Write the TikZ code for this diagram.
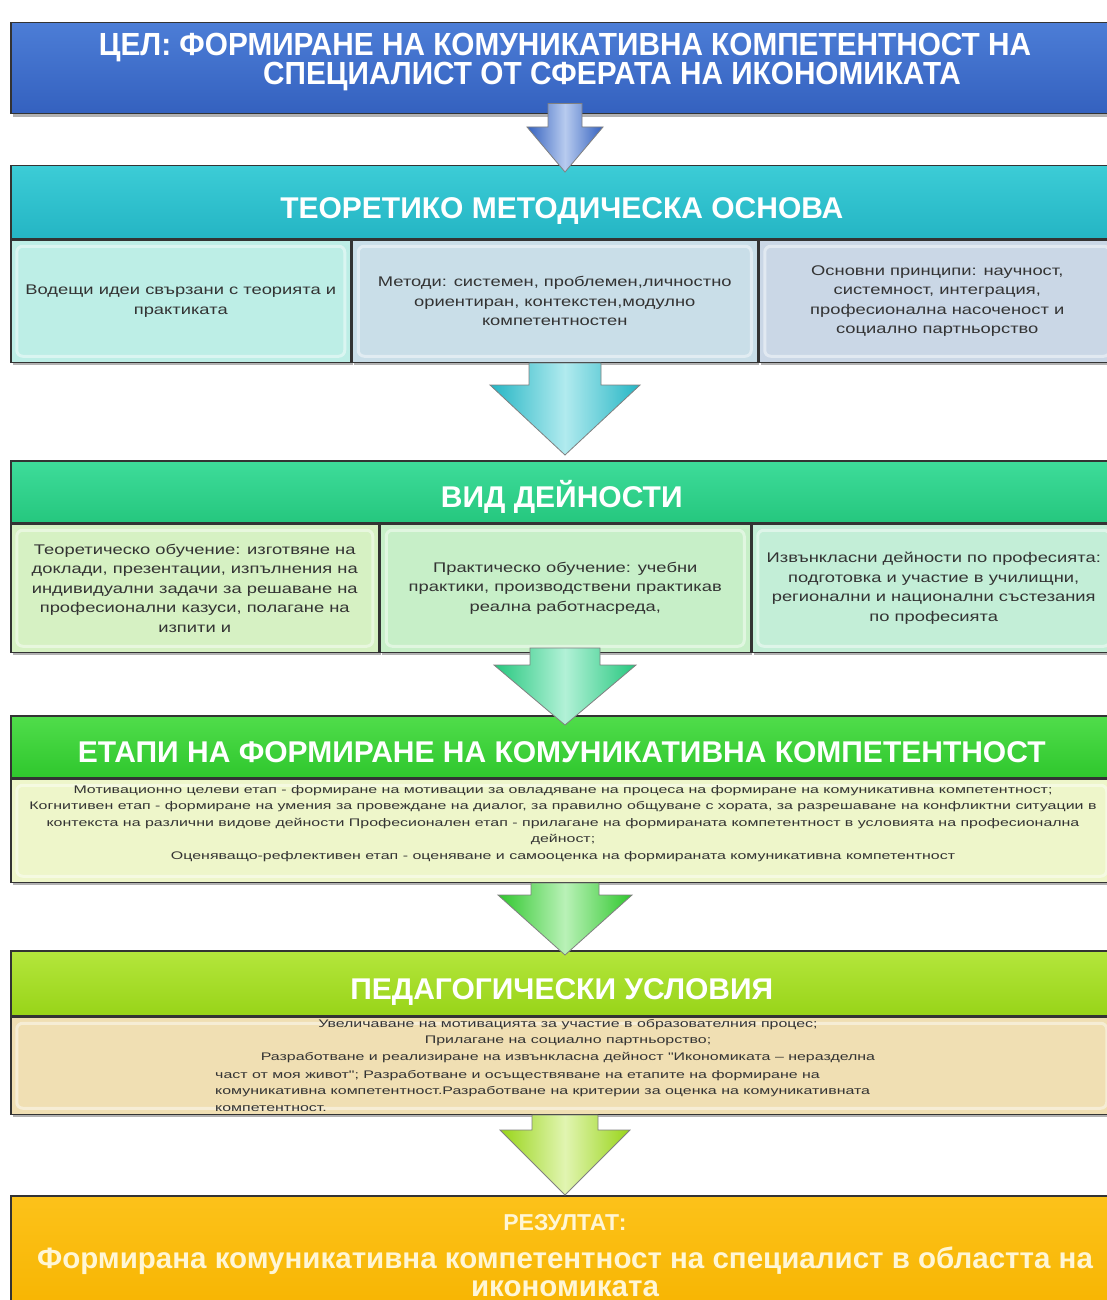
\documentclass[tikz,border=0pt]{standalone}
\usepackage{fontspec}
\setmainfont{Liberation Sans}
\newfontfamily\titlefont{Liberation Sans}[FakeStretch=0.93]
\newfontfamily\boxfont{Liberation Sans}[FakeStretch=1.31]
\newfontfamily\notefont{Liberation Sans}[FakeStretch=1.45]
\usetikzlibrary{positioning,calc,shadows}

\definecolor{goaltop}{HTML}{4C7DD6}
\definecolor{goalbot}{HTML}{3461BF}
\definecolor{theorytop}{HTML}{3CCCD6}
\definecolor{theorybot}{HTML}{24B5C4}
\definecolor{acttop}{HTML}{3EDC9A}
\definecolor{actbot}{HTML}{25C77E}
\definecolor{stagetop}{HTML}{50DD4B}
\definecolor{stagebot}{HTML}{2FC72D}
\definecolor{condtop}{HTML}{B4E63C}
\definecolor{condbot}{HTML}{98D418}
\definecolor{resulttop}{HTML}{FCC21A}
\definecolor{resultbot}{HTML}{F7B400}
\definecolor{ideasfill}{HTML}{BDEEE6}
\definecolor{methodsfill}{HTML}{C9DEE8}
\definecolor{principfill}{HTML}{CAD7E6}
\definecolor{learnfill}{HTML}{D6F1C3}
\definecolor{practfill}{HTML}{C7EFC8}
\definecolor{extrafill}{HTML}{C3EED7}
\definecolor{stagefill}{HTML}{EEF6CA}
\definecolor{condfill}{HTML}{F0DFB3}
\definecolor{inktext}{HTML}{333333}
\definecolor{resulttext}{HTML}{FFF6D5}

% block arrow between two boxes: from, to, start extension, tip overshoot,
% shaft half width, head half width, head length, fill
\newcommand\blockarrow[8]{%
  \path (#1 -| spine) ++(0,-#3) coordinate (ba-s);
  \path (#2 -| spine) ++(0,#4) coordinate (ba-e);
  \draw[arrowedge,#8] ($(ba-s)+(-#5,0)$) -- ($(ba-e)+(-#5,-#7)$) -- ($(ba-e)+(-#6,-#7)$)
    -- (ba-e) -- ($(ba-e)+(#6,-#7)$) -- ($(ba-e)+(#5,-#7)$) -- ($(ba-s)+(#5,0)$) -- cycle;
}

\tikzset{
  gloss/.style={path picture={
    \draw[white,opacity=.45,line width=3pt,rounded corners=6pt]
      ([shift={(6pt,-6pt)}]path picture bounding box.north west) rectangle
      ([shift={(-6pt,6pt)}]path picture bounding box.south east);}},
  boxshadow/.style={drop shadow={shadow xshift=2pt,shadow yshift=-3pt,opacity=.5,fill=black!60}},
  headbox/.style={draw=black!80, line width=1.5pt, anchor=north west, minimum width=1102pt,
    inner sep=0pt, text height=32pt, text depth=0pt, text=white,
    font=\fontsize{30}{30}\selectfont\bfseries, boxshadow},
  subbox/.style={draw=black!80, line width=1.5pt, anchor=north west, inner sep=4pt,
    align=center, text=inktext, font=\boxfont\fontsize{14}{19.5}\selectfont, boxshadow, gloss},
  notebox/.style={subbox, font=\notefont\fontsize{11}{16.5}\selectfont},
  arrowedge/.style={draw=black!50, line width=0.8pt},
}

\begin{document}
\begin{tikzpicture}[x=1pt,y=-1pt]
\useasboundingbox[fill=white] (0,0) rectangle (1107,1300);
\coordinate (spine) at (565,0);

% goal
\node[headbox, top color=goaltop, bottom color=goalbot, minimum height=91pt] (goal) at (10,22) {};
\node[text=white, align=center, font=\titlefont\fontsize{32}{29}\selectfont\bfseries] (goaltext) at (565,62)
  {ЦЕЛ: ФОРМИРАНЕ НА КОМУНИКАТИВНА КОМПЕТЕНТНОСТ НА\\\hspace*{94pt}СПЕЦИАЛИСТ ОТ СФЕРАТА НА ИКОНОМИКАТА};

% theoretical basis
\node[headbox, top color=theorytop, bottom color=theorybot, minimum height=73pt] (theory) at (10,165)
  {ТЕОРЕТИКО МЕТОДИЧЕСКА ОСНОВА};
\node[subbox, fill=ideasfill, minimum width=340pt, minimum height=122pt] (ideas) at (theory.south west)
  {Водещи идеи свързани с теорията и\\практиката};
\node[subbox, fill=methodsfill, minimum width=405pt, minimum height=122pt] (methods) at (ideas.north east)
  {Методи: системен, проблемен,личностно\\ориентиран, контекстен,модулно\\компетентностен};
\node[subbox, fill=principfill, minimum width=357pt, minimum height=122pt] (principles) at (methods.north east)
  {Основни принципи: научност,\\системност, интеграция,\\професионална насоченост и\\социално партньорство};

% kinds of activity
\node[headbox, top color=acttop, bottom color=actbot, minimum height=62pt] (activity) at (10,460)
  {ВИД ДЕЙНОСТИ};
\node[subbox, fill=learnfill, minimum width=368pt, minimum height=128pt] (learning) at (activity.south west)
  {Теоретическо обучение: изготвяне на\\доклади, презентации, изпълнения на\\индивидуални задачи за решаване на\\професионални казуси, полагане на\\изпити и};
\node[subbox, fill=practfill, minimum width=370pt, minimum height=128pt] (practice) at (learning.north east)
  {Практическо обучение: учебни\\практики, производствени практикав\\реална работнасреда,};
\node[subbox, fill=extrafill, minimum width=364pt, minimum height=128pt] (extra) at (practice.north east)
  {Извънкласни дейности по професията:\\подготовка и участие в училищни,\\регионални и национални състезания\\по професията};

% stages
\node[headbox, top color=stagetop, bottom color=stagebot, minimum height=62pt] (stages) at (10,715)
  {ЕТАПИ НА ФОРМИРАНЕ НА КОМУНИКАТИВНА КОМПЕТЕНТНОСТ};
\node[notebox, fill=stagefill, minimum width=1102pt, minimum height=103pt] (stagebody) at (stages.south west) {};
\node[anchor=north, align=center, text=inktext, font=\notefont\fontsize{11}{16.5}\selectfont, inner sep=2pt] (stagetext)
  at (563,783)
  {Мотивационно целеви етап - формиране на мотивации за овладяване на процеса на формиране на комуникативна компетентност;\\
   Когнитивен етап - формиране на умения за провеждане на диалог, за правилно общуване с хората, за разрешаване на конфликтни ситуации в\\
   контекста на различни видове дейности Професионален етап - прилагане на формираната компетентност в условията на професионална\\
   дейност;\\
   Оценяващо-рефлективен етап - оценяване и самооценка на формираната комуникативна компетентност};

% pedagogical conditions
\node[headbox, top color=condtop, bottom color=condbot, minimum height=65pt] (cond) at (10,950)
  {ПЕДАГОГИЧЕСКИ УСЛОВИЯ};
\node[notebox, fill=condfill, minimum width=1102pt, minimum height=97pt] (condbody) at (cond.south west) {};
\node[anchor=north, align=center, text=inktext, font=\notefont\fontsize{11}{16.5}\selectfont, inner sep=2pt] (condtop)
  at (568,1017)
  {Увеличаване на мотивацията за участие в образователния процес;\\
   Прилагане на социално партньорство;\\
   Разработване и реализиране на извънкласна дейност "Икономиката – неразделна};
\node[anchor=north west, align=left, text=inktext, font=\notefont\fontsize{11}{16.5}\selectfont, inner sep=2pt] (condbot)
  at (213,1068)
  {част от моя живот"; Разработване и осъществяване на етапите на формиране на\\
   комуникативна компетентност.Разработване на критерии за оценка на комуникативната\\
   компетентност.};

% result
\node[headbox, top color=resulttop, bottom color=resultbot, minimum height=120pt] (result) at (10,1195) {};
\node[anchor=north, align=center, text=resulttext, font=\fontsize{29.5}{28}\selectfont\bfseries] (resulttext)
  at (565,1211)
  {{\fontsize{23}{28}\selectfont РЕЗУЛТАТ:}\\[10pt]
   Формирана комуникативна компетентност на специалист в областта на\\икономиката};

% arrows
\blockarrow{goal.south}{theory.north}{11}{7}{17}{38}{45}
  {left color=goalbot, right color=goalbot, middle color=goaltop!40!white}
\blockarrow{methods.south}{activity.north}{0}{-5}{36}{75}{70}
  {left color=theorybot, right color=theorybot, middle color=theorytop!40!white}
\blockarrow{practice.south}{stages.north}{5}{10}{35}{71}{60}
  {left color=actbot, right color=actbot, middle color=acttop!40!white}
\blockarrow{stagebody.south}{cond.north}{0}{5}{34}{67}{60}
  {left color=stagebot, right color=stagebot, middle color=stagetop!40!white}
\blockarrow{condbody.south}{result.north}{0}{0}{33}{65}{65}
  {left color=condbot, right color=condbot, middle color=condtop!40!white}
\end{tikzpicture}
\end{document}
